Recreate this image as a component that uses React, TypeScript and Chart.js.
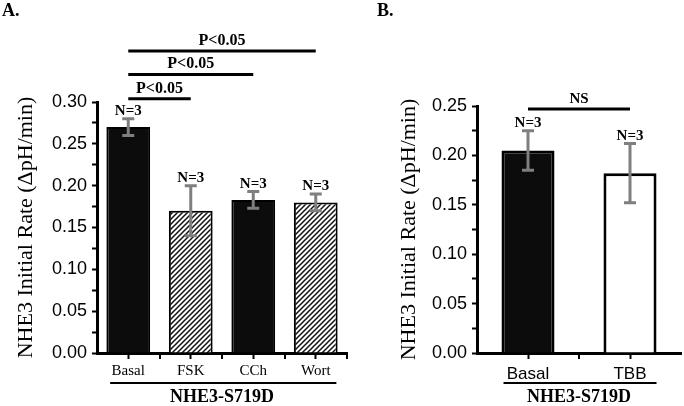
import React, { useEffect, useRef } from 'react';
import { Chart, registerables } from 'chart.js';
Chart.register(...registerables);

// ---------- data ----------
const yTitle = 'NHE3 Initial Rate (ΔpH/min)';
const groupLabel = 'NHE3-S719D';

const categoriesA = ['Basal', 'FSK', 'CCh', 'Wort'];
const meansA = [0.27, 0.17, 0.183, 0.18];
const errorsA = [0.01, 0.03, 0.01, 0.01];
const countsA = ['N=3', 'N=3', 'N=3', 'N=3'];
const fillsA = ['solid', 'hatch', 'solid', 'hatch'];
const sigFromA = [0, 0, 0];
const sigToA = [1, 2, 3];
const sigLevelA = [0.304, 0.333, 0.361];
const sigTextA = ['P<0.05', 'P<0.05', 'P<0.05'];
const yMaxA = 0.3;

const categoriesB = ['Basal', 'TBB'];
const meansB = [0.205, 0.182];
const errorsB = [0.02, 0.03];
const countsB = ['N=3', 'N=3'];
const fillsB = ['solid', 'open'];
const sigFromB = [0];
const sigToB = [1];
const sigLevelB = [0.247];
const sigTextB = ['NS'];
const yMaxB = 0.25;

const yLabelStep = 0.05;
const yMinorStep = 0.025;

const SERIF = '"Liberation Serif", "Times New Roman", serif';
const SANS = '"Liberation Sans", Arial, sans-serif';

interface PanelCfg {
  left: number;
  width: number;
  letter: string;
  letterX: number;
  cats: string[];
  means: number[];
  errs: number[];
  counts: string[];
  fills: string[];
  sigFrom: number[];
  sigTo: number[];
  sigLevel: number[];
  sigText: string[];
  sigFontSize: number;
  yMax: number;
  plotLeft: number;
  plotTop: number;
  plotRight: number;
  barPct: number;
  borderW: number;
  catFont: any;
  catPad: number;
  titlePad: number;
  underL: number;
  underR: number;
  minorEnd: boolean;
}

function makeHatch(ctx: CanvasRenderingContext2D) {
  const s = 5;
  const c = document.createElement('canvas');
  c.width = s;
  c.height = s;
  const g = c.getContext('2d') as CanvasRenderingContext2D;
  g.fillStyle = '#fff';
  g.fillRect(0, 0, s, s);
  g.strokeStyle = '#111';
  g.lineWidth = 1.5;
  g.beginPath();
  g.moveTo(-1, s + 1);
  g.lineTo(s + 1, -1);
  g.moveTo(-2, 2);
  g.lineTo(2, -2);
  g.moveTo(s - 2, s + 2);
  g.lineTo(s + 2, s - 2);
  g.stroke();
  return ctx.createPattern(c, 'repeat');
}

function Panel({ cfg }: { cfg: PanelCfg }) {
  const ref = useRef<HTMLCanvasElement | null>(null);
  useEffect(() => {
    const canvas = ref.current;
    if (!canvas) return;
    const ctx0 = canvas.getContext('2d') as CanvasRenderingContext2D;
    const hatch = makeHatch(ctx0);
    const colors = cfg.fills.map((f) => (f === 'solid' ? '#0c0c0c' : f === 'hatch' ? hatch : '#ffffff'));

    const overlay = {
      id: 'overlay',
      afterDraw(chart: any) {
        const ctx = chart.ctx as CanvasRenderingContext2D;
        const xs = chart.scales.x;
        const ys = chart.scales.y;
        const area = chart.chartArea;
        const cat = xs.getPixelForValue(1) - xs.getPixelForValue(0);
        ctx.save();
        // minor x ticks at category boundaries
        ctx.strokeStyle = '#000';
        ctx.lineWidth = 2;
        const n = cfg.cats.length;
        const last = cfg.minorEnd ? n : n - 1;
        for (let i = 0; i < last; i++) {
          const px = Math.round(xs.getPixelForValue(i) + cat / 2);
          ctx.beginPath();
          ctx.moveTo(px, area.bottom);
          ctx.lineTo(px, area.bottom + 6);
          ctx.stroke();
        }
        // error bars
        ctx.strokeStyle = '#7f7f7f';
        ctx.lineWidth = 3;
        for (let i = 0; i < n; i++) {
          const cx = xs.getPixelForValue(i);
          const yt = ys.getPixelForValue(cfg.means[i] + cfg.errs[i]);
          const yb = ys.getPixelForValue(cfg.means[i] - cfg.errs[i]);
          ctx.beginPath();
          ctx.moveTo(cx, yt);
          ctx.lineTo(cx, yb);
          ctx.moveTo(cx - 6, yt);
          ctx.lineTo(cx + 6, yt);
          ctx.moveTo(cx - 6, yb);
          ctx.lineTo(cx + 6, yb);
          ctx.stroke();
        }
        // N labels
        ctx.fillStyle = '#000';
        ctx.font = `bold 15px ${SERIF}`;
        ctx.textAlign = 'center';
        ctx.textBaseline = 'alphabetic';
        for (let i = 0; i < n; i++) {
          const cx = xs.getPixelForValue(i);
          const yt = ys.getPixelForValue(cfg.means[i] + cfg.errs[i]);
          ctx.fillText(cfg.counts[i], cx, yt - 4);
        }
        // significance lines
        ctx.strokeStyle = '#000';
        ctx.lineWidth = 3;
        ctx.font = `bold ${cfg.sigFontSize}px ${SERIF}`;
        for (let k = 0; k < cfg.sigFrom.length; k++) {
          const x1 = xs.getPixelForValue(cfg.sigFrom[k]);
          const x2 = xs.getPixelForValue(cfg.sigTo[k]);
          const yy = ys.getPixelForValue(cfg.sigLevel[k]);
          ctx.beginPath();
          ctx.moveTo(x1, yy);
          ctx.lineTo(x2, yy);
          ctx.stroke();
          ctx.fillText(cfg.sigText[k], (x1 + x2) / 2, yy - 6);
        }
        // group underline
        ctx.lineWidth = 2;
        const ul = xs.getPixelForValue(0) - cfg.underL * cat;
        const ur = xs.getPixelForValue(n - 1) + cfg.underR * cat;
        ctx.beginPath();
        ctx.moveTo(ul, area.bottom + 30);
        ctx.lineTo(ur, area.bottom + 30);
        ctx.stroke();
        // panel letter
        ctx.font = `bold 18px ${SERIF}`;
        ctx.textAlign = 'left';
        ctx.fillText(cfg.letter, cfg.letterX, 16);
        ctx.restore();
      },
    };

    const chart = new Chart(canvas, {
      type: 'bar',
      data: {
        labels: cfg.cats,
        datasets: [
          {
            data: cfg.means,
            backgroundColor: colors as any,
            borderColor: '#000',
            borderWidth: cfg.borderW,
            barPercentage: cfg.barPct,
            categoryPercentage: 1,
          },
        ],
      },
      options: {
        responsive: false,
        animation: false,
        layout: {
          padding: { left: 0, top: cfg.plotTop, right: cfg.width - cfg.plotRight, bottom: 0 },
        },
        plugins: {
          legend: { display: false },
          tooltip: { enabled: false },
          title: { display: false },
        },
        scales: {
          x: {
            type: 'category',
            offset: true,
            grid: {
              display: true,
              drawOnChartArea: false,
              drawTicks: true,
              tickLength: 6,
              tickWidth: 2,
              tickColor: '#000',
              offset: false,
            },
            border: { display: true, color: '#000', width: 3 },
            ticks: { font: cfg.catFont, color: '#000', padding: cfg.catPad, autoSkip: false, maxRotation: 0 },
            title: {
              display: true,
              text: groupLabel,
              color: '#000',
              font: { family: SERIF, size: 18, weight: 'bold', lineHeight: 1 },
              padding: { top: 0, bottom: 0 },
            },
            afterFit: (s: any) => {
              s.height = 406 - 353;
            },
          },
          y: {
            min: 0,
            max: cfg.yMax,
            grid: {
              display: true,
              drawOnChartArea: false,
              drawTicks: true,
              tickLength: 5,
              tickWidth: 2,
              tickColor: '#000',
            },
            border: { display: true, color: '#000', width: 3 },
            ticks: {
              stepSize: yMinorStep,
              autoSkip: false,
              padding: 5,
              color: '#000',
              font: { family: SANS, size: 18 },
              callback: (v: any) => {
                const k = Math.round(Number(v) / yMinorStep);
                const every = Math.round(yLabelStep / yMinorStep);
                return k % every === 0 ? Number(v).toFixed(2) : '';
              },
            },
            title: {
              display: true,
              text: yTitle,
              color: '#000',
              font: { family: SERIF, size: 22 },
              padding: { top: cfg.titlePad, bottom: 0 },
            },
            afterFit: (s: any) => {
              s.width = cfg.plotLeft;
            },
          },
        },
      } as any,
      plugins: [overlay],
    });
    return () => chart.destroy();
  }, [cfg]);
  return (
    <canvas
      ref={ref}
      width={cfg.width}
      height={406}
      style={{ position: 'absolute', left: cfg.left, top: 0, width: cfg.width, height: 406 }}
    />
  );
}

const cfgA: PanelCfg = {
  left: 0,
  width: 352,
  letter: 'A.',
  letterX: 2,
  cats: categoriesA,
  means: meansA,
  errs: errorsA,
  counts: countsA,
  fills: fillsA,
  sigFrom: sigFromA,
  sigTo: sigToA,
  sigLevel: sigLevelA,
  sigText: sigTextA,
  sigFontSize: 16,
  yMax: yMaxA,
  plotLeft: 97,
  plotTop: 102,
  plotRight: 347,
  barPct: 0.7,
  borderW: 2,
  catFont: { family: SERIF, size: 15 },
  catPad: 3,
  titlePad: 13,
  underL: 0.29,
  underR: 0.33,
  minorEnd: true,
};

const cfgB: PanelCfg = {
  left: 350,
  width: 334,
  letter: 'B.',
  letterX: 27,
  cats: categoriesB,
  means: meansB,
  errs: errorsB,
  counts: countsB,
  fills: fillsB,
  sigFrom: sigFromB,
  sigTo: sigToB,
  sigLevel: sigLevelB,
  sigText: sigTextB,
  sigFontSize: 15,
  yMax: yMaxB,
  plotLeft: 127,
  plotTop: 106,
  plotRight: 331,
  barPct: 0.52,
  borderW: 3,
  catFont: { family: SANS, size: 17 },
  catPad: 5,
  titlePad: 46,
  underL: 0.24,
  underR: 0.26,
  minorEnd: false,
};

export default function App() {
  return (
    <div style={{ position: 'fixed', left: 0, top: 0, width: 684, height: 406, background: '#fff' }}>
      <Panel cfg={cfgA} />
      <Panel cfg={cfgB} />
    </div>
  );
}
